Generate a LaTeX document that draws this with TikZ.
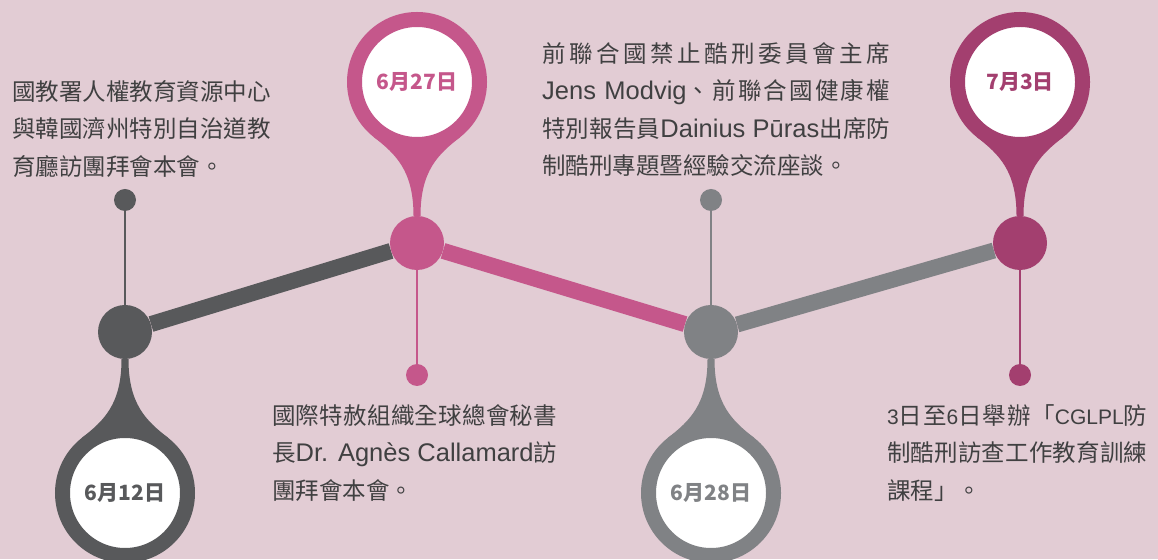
\documentclass[tikz,border=0pt]{standalone}
\usepackage{fontspec}
\setmainfont{Noto Sans CJK TC}
\newfontfamily\latfont{Liberation Sans}
\XeTeXlinebreaklocale "zh"
\XeTeXlinebreakskip=0pt plus 6pt

\definecolor{bgpink}{HTML}{E2CCD4}
\definecolor{tlDark}{HTML}{58595B}
\definecolor{tlPink}{HTML}{C5578B}
\definecolor{tlGray}{HTML}{808285}
\definecolor{tlPurple}{HTML}{A33F6F}
\definecolor{notegray}{HTML}{404041}

\newcommand{\lat}[1]{{\latfont\fontsize{25.5}{37.5}\selectfont #1}}
\newcommand{\latsm}[1]{{\latfont\fontsize{21}{37.5}\selectfont #1}}

\pgfdeclarelayer{paper}
\pgfdeclarelayer{under}
\pgfsetlayers{paper,under,main}

\tikzset{
  junction/.style={circle, minimum size=54pt, inner sep=0pt},
  enddot/.style={circle, minimum size=22pt, inner sep=0pt},
  datepin/.style={circle, fill=white, line width=15pt, minimum size=125pt,
    inner sep=0pt, font=\bfseries\fontsize{21}{21}\selectfont},
  note/.style={anchor=north west, inner sep=0pt, text=notegray,
    font=\fontsize{23.5}{37.5}\selectfont},
  track/.style={line width=16pt},
  stem/.style={line width=2pt},
}

\begin{document}
\begin{tikzpicture}[x=1pt, y=1pt]
  \begin{pgfonlayer}{paper}
    \fill[bgpink] (0,0) rectangle (1158,559);
  \end{pgfonlayer}
  \useasboundingbox (0,0) rectangle (1158,559);

  % junctions on the track
  \node [junction, fill=tlDark] (j1) at (125,227) {};
  \node [junction, fill=tlPink] (j2) at (417,316) {};
  \node [junction, fill=tlGray] (j3) at (711,227) {};
  \node [junction, fill=tlPurple] (j4) at (1020,316) {};

  % small end dots
  \node [enddot, fill=tlDark] (d1) at (125,359) {};
  \node [enddot, fill=tlPink] (d2) at (417,184) {};
  \node [enddot, fill=tlGray] (d3) at (711,359) {};
  \node [enddot, fill=tlPurple] (d4) at (1020,184) {};

  % date pins
  \node [datepin, draw=tlDark, text=tlDark] (p1) at (125,66) {6月12日};
  \node [datepin, draw=tlPink, text=tlPink] (p2) at (417,477) {6月27日};
  \node [datepin, draw=tlGray, text=tlGray] (p3) at (711,66) {6月28日};
  \node [datepin, draw=tlPurple, text=tlPurple] (p4) at (1020,477) {7月3日};

  \begin{pgfonlayer}{under}
    \draw [track, tlDark] (j1) -- (j2);
    \draw [track, tlPink] (j2) -- (j3);
    \draw [track, tlGray] (j3) -- (j4);

    \draw [stem, tlDark] (j1) -- (d1);
    \draw [stem, tlPink] (j2) -- (d2);
    \draw [stem, tlGray] (j3) -- (d3);
    \draw [stem, tlPurple] (j4) -- (d4);

    % necks of the pins
    \fill [tlDark] (p1.128) .. controls +(38:28) and +(0,-45) .. ([xshift=-3.5pt]j1.south)
      -- ([xshift=3.5pt]j1.south) .. controls +(0,-45) and +(142:28) .. (p1.52)
      -- (p1.center) -- cycle;
    \fill [tlPink] (p2.-128) .. controls +(-38:28) and +(0,45) .. ([xshift=-3.5pt]j2.north)
      -- ([xshift=3.5pt]j2.north) .. controls +(0,45) and +(-142:28) .. (p2.-52)
      -- (p2.center) -- cycle;
    \fill [tlGray] (p3.128) .. controls +(38:28) and +(0,-45) .. ([xshift=-3.5pt]j3.south)
      -- ([xshift=3.5pt]j3.south) .. controls +(0,-45) and +(142:28) .. (p3.52)
      -- (p3.center) -- cycle;
    \fill [tlPurple] (p4.-128) .. controls +(-38:28) and +(0,45) .. ([xshift=-3.5pt]j4.north)
      -- ([xshift=3.5pt]j4.north) .. controls +(0,45) and +(-142:28) .. (p4.-52)
      -- (p4.center) -- cycle;
  \end{pgfonlayer}

  % notes
  \node [note, align=left] (n1) at (12,479)
    {國教署人權教育資源中心\\與韓國濟州特別自治道教\\育廳訪團拜會本會。};
  \node [note, text width=348pt, align=justify] (n2) at (542,517)
    {前聯合國禁止酷刑委員會主席\linebreak
     \lat{Jens Modvig}、前聯合國健康權\linebreak
     特別報告員\lat{Dainius Pūras}出席防\linebreak
     制酷刑專題暨經驗交流座談。};
  \node [note, text width=285pt, align=justify] (n3) at (272,155)
    {國際特赦組織全球總會秘書\linebreak
     長\lat{Dr. Agnès Callamard}訪\linebreak
     團拜會本會。};
  \node [note, text width=260pt, align=justify] (n4) at (887,155)
    {\latsm{3}日至\latsm{6}日舉辦「\latsm{CGLPL}防\linebreak
     制酷刑訪查工作教育訓練\linebreak
     課程」。};
\end{tikzpicture}
\end{document}
